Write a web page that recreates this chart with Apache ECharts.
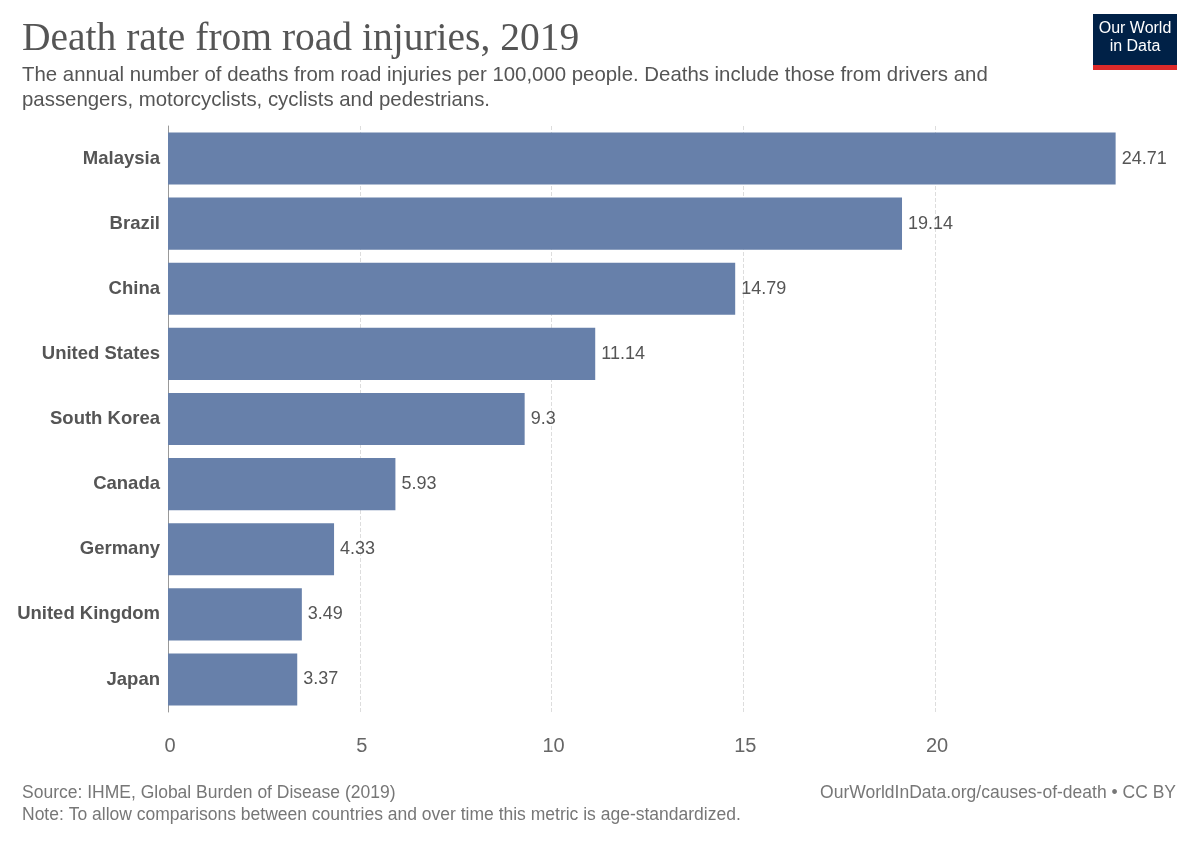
<!DOCTYPE html>
<html><head><meta charset="utf-8">
<script src="https://cdn.jsdelivr.net/npm/echarts@6/dist/echarts.min.js"></script>
<style>body{margin:0;background:#fff}#c{width:1200px;height:847px}</style>
</head><body><div id="c"></div>
<script>
const countries = ["Malaysia","Brazil","China","United States","South Korea","Canada","Germany","United Kingdom","Japan"];
const values = [24.71,19.14,14.79,11.14,9.3,5.93,4.33,3.49,3.37];
const tickValues = [0,5,10,15,20];
const chart = echarts.init(document.getElementById('c'));
chart.setOption({
  backgroundColor:'#fff',
  animation:false,
  graphic:[
    {type:'text',left:22,top:20,style:{text:'Death rate from road injuries, 2019',font:'39.5px "Liberation Serif", serif',fill:'#555'}},
    {type:'text',left:22,top:63,style:{text:'The annual number of deaths from road injuries per 100,000 people. Deaths include those from drivers and\npassengers, motorcyclists, cyclists and pedestrians.',font:'20.4px "Liberation Sans", Arial',fill:'#555',lineHeight:25}},
    {type:'rect',shape:{x:1093,y:14,width:84,height:56},style:{fill:'#002147'}},
    {type:'rect',shape:{x:1093,y:65,width:84,height:5},style:{fill:'#dc2a2a'}},
    {type:'text',x:1135,y:38,style:{text:'Our World\nin Data',font:'16px "Liberation Sans", Arial',fill:'#fff',align:'center',verticalAlign:'middle',lineHeight:18}},
    {type:'text',left:22,top:784,style:{text:'Source: IHME, Global Burden of Disease (2019)',font:'17.5px "Liberation Sans", Arial',fill:'#777'}},
    {type:'text',right:24,top:784,style:{text:'OurWorldInData.org/causes-of-death • CC BY',font:'17.5px "Liberation Sans", Arial',fill:'#777',align:'right'}},
    {type:'text',left:22,top:806,style:{text:'Note: To allow comparisons between countries and over time this metric is age-standardized.',font:'17.5px "Liberation Sans", Arial',fill:'#777'}}
  ],
  grid:{left:168,top:126,width:958.75,height:586},
  xAxis:{type:'value',min:0,max:25,interval:5,
    axisLabel:{formatter:v=>tickValues.includes(v)?String(v):'',color:'#666',fontSize:20,fontFamily:'Liberation Sans',margin:24,padding:[0,0,0,4]},
    splitLine:{lineStyle:{type:'dashed',color:'#ddd'},showMaxLine:false},
    axisLine:{show:false},axisTick:{show:false}},
  yAxis:{type:'category',data:countries,inverse:true,
    axisLabel:{color:'#555',fontWeight:'bold',fontSize:18.5,fontFamily:'Liberation Sans',margin:8},
    axisLine:{show:true,lineStyle:{color:'#999'}},axisTick:{show:false}},
  series:[{type:'bar',data:values,barCategoryGap:'20%',itemStyle:{color:'#6780aa'},
    label:{show:true,position:'right',color:'#555',fontSize:18,fontFamily:'Liberation Sans',distance:6}}]
});
</script></body></html>
